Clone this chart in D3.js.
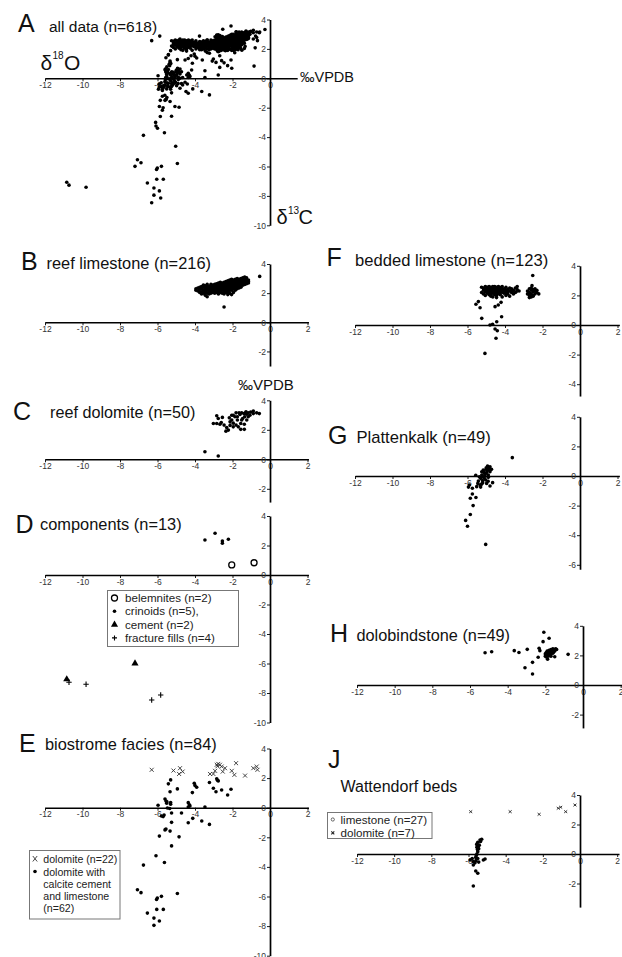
<!DOCTYPE html>
<html><head><meta charset="utf-8">
<script src="https://cdn.jsdelivr.net/npm/d3@7/dist/d3.min.js"></script>
<style>
body{margin:0;background:#fff}
svg{display:block}
</style></head><body>
<svg id="fig" width="622" height="957"></svg>
<script>
// ---- data: [δ18O, δ13C] in ‰ VPDB ----
const xTickVals = [-12, -10, -8, -6, -4, -2, 0, 2];

const reefLimestone = [
[-3.95,2.2],[-3.95,2.3],[-3.85,2.15],[-3.85,2.35],[-3.75,2.25],[-3.75,2.05],[-3.75,2.4],
[-3.65,2.3],[-3.65,2.1],[-3.65,2.45],[-3.65,1.95],[-3.55,2.2],[-3.55,2.4],[-3.55,2.0],[-3.55,2.55],
[-3.45,2.3],[-3.45,1.85],[-3.45,2.15],[-3.45,2.5],[-3.45,2.05],
[-3.35,2.4],[-3.35,1.75],[-3.35,2.2],[-3.35,2.6],[-3.35,2.0],[-3.35,2.3],
[-3.25,2.25],[-3.25,2.45],[-3.25,1.95],[-3.25,2.1],[-3.25,2.35],
[-3.15,2.3],[-3.15,2.5],[-3.15,2.15],[-3.15,2.0],[-3.15,2.4],[-3.15,2.6],
[-3.05,2.2],[-3.05,2.45],[-3.05,2.35],[-3.05,2.05],[-3.05,2.55],
[-2.95,2.3],[-2.95,2.6],[-2.95,2.15],[-2.95,2.4],[-2.95,2.0],[-2.95,2.5],[-2.95,2.25],
[-2.85,2.35],[-2.85,2.55],[-2.85,2.2],[-2.85,2.05],[-2.85,2.45],[-2.85,2.65],[-2.85,2.3],
[-2.75,2.4],[-2.75,2.2],[-2.75,2.6],[-2.75,2.1],[-2.75,2.5],[-2.75,2.3],[-2.75,2.7],[-2.75,1.95],
[-2.65,2.35],[-2.65,2.55],[-2.65,2.15],[-2.65,2.45],[-2.65,2.25],[-2.65,2.65],[-2.65,2.05],[-2.65,2.75],
[-2.55,2.4],[-2.55,2.2],[-2.55,2.6],[-2.55,2.3],[-2.55,2.5],[-2.55,2.0],[-2.55,2.7],[-2.55,2.35],
[-2.45,2.45],[-2.45,2.25],[-2.45,2.65],[-2.45,2.1],[-2.45,2.55],[-2.45,2.35],[-2.45,2.75],[-2.45,1.95],[-2.45,2.5],
[-2.35,2.5],[-2.35,2.3],[-2.35,2.7],[-2.35,2.15],[-2.35,2.6],[-2.35,2.4],[-2.35,2.8],[-2.35,2.05],
[-2.25,2.45],[-2.25,2.25],[-2.25,2.65],[-2.25,2.35],[-2.25,2.55],[-2.25,2.75],[-2.25,2.1],[-2.25,2.85],[-2.25,1.9],
[-2.15,2.5],[-2.15,2.3],[-2.15,2.7],[-2.15,2.4],[-2.15,2.6],[-2.15,2.2],[-2.15,2.8],[-2.15,2.0],[-2.15,2.9],
[-2.05,2.55],[-2.05,2.35],[-2.05,2.75],[-2.05,2.45],[-2.05,2.65],[-2.05,2.2],[-2.05,2.85],[-2.05,1.9],[-2.05,2.95],
[-1.95,2.6],[-1.95,2.4],[-1.95,2.8],[-1.95,2.5],[-1.95,2.7],[-1.95,2.3],[-1.95,2.9],[-1.95,2.05],
[-1.85,2.55],[-1.85,2.75],[-1.85,2.45],[-1.85,2.65],[-1.85,2.35],[-1.85,2.85],[-1.85,2.95],[-1.85,2.2],
[-1.75,2.6],[-1.75,2.8],[-1.75,2.5],[-1.75,2.7],[-1.75,2.4],[-1.75,2.9],[-1.75,3.0],[-1.75,2.3],
[-1.65,2.65],[-1.65,2.85],[-1.65,2.55],[-1.65,2.75],[-1.65,2.45],[-1.65,2.95],[-1.65,2.35],
[-1.55,2.7],[-1.55,2.9],[-1.55,2.6],[-1.55,2.8],[-1.55,2.5],[-1.55,3.0],[-1.55,2.4],
[-1.45,2.75],[-1.45,2.95],[-1.45,2.65],[-1.45,2.85],[-1.45,3.05],[-1.45,2.55],
[-1.35,2.8],[-1.35,3.0],[-1.35,2.7],[-1.35,2.9],[-1.35,3.1],[-1.35,2.6],
[-1.25,2.85],[-1.25,2.75],[-1.25,2.95],[-1.25,3.05],[-1.25,2.65],
[-1.15,2.8],[-1.15,2.9],[-1.15,2.7],
[-0.55,3.15],[-2.45,1.05],
[-3.1,2.35],[-3.1,2.2],[-2.9,2.45],[-2.9,2.2],[-2.8,2.5],[-2.8,2.3],[-2.8,2.1],[-2.7,2.55],[-2.7,2.35],
[-2.6,2.45],[-2.6,2.25],[-2.6,2.6],[-2.5,2.5],[-2.5,2.3],[-2.4,2.6],[-2.4,2.4],[-2.4,2.2],[-2.3,2.55],
[-2.3,2.35],[-2.2,2.6],[-2.2,2.4],[-2.2,2.75],[-2.1,2.65],[-2.1,2.45],[-2.0,2.7],[-2.0,2.5],[-2.0,2.3],
[-1.9,2.65],[-1.9,2.45],[-1.8,2.7],[-1.8,2.55],[-1.7,2.75]
];

const reefDolomite = [
[-2.84,2.95],[-2.54,2.84],[-2.76,2.77],[-3.02,2.43],[-2.84,2.43],[-2.67,2.38],[-2.45,2.32],[-2.31,2.16],[-2.35,1.91],[-2.22,1.98],
[-2.13,2.54],[-2.04,2.66],[-2.17,2.81],[-1.96,2.99],[-1.81,3.15],[-1.74,2.88],[-1.6,3.04],[-1.51,3.15],[-1.39,3.1],[-1.28,3.22],
[-1.16,3.15],[-1.03,3.2],[-0.89,3.1],[-0.71,3.15],[-0.57,3.1],
[-1.46,2.77],[-1.35,2.88],[-1.24,2.66],[-1.56,2.43],[-1.37,2.38],[-1.81,2.32],[-1.69,2.2],[-1.56,2.03],[-1.37,2.03],[-1.96,2.2],
[-1.87,2.88],[-1.16,2.88],[-1.07,2.99],[-1.65,3.15],[-2.04,2.99],[-1.74,2.66],[-1.24,3.05],[-1.51,2.66],[-0.89,3.27],[-1.96,2.45],
[-2.13,2.3],[-3.47,0.51],[-2.76,0.22],[-2.6,2.5],[-1.3,3.15]
];

// components
const belemnites = [[-2.04,0.68],[-0.85,0.83]];
const crinoids = [[-3.47,2.37],[-2.93,2.83],[-2.54,2.3],[-2.54,2.15],[-2.22,2.42]];
const cement = [[-10.84,-7.07],[-7.2,-5.99]];
const fractureFills = [[-10.72,-7.27],[-9.81,-7.41],[-5.83,-8.14],[-6.31,-8.47]];

// biostrome facies
const biostromeDolomite = [
[-6.31,2.56],[-5.15,2.51],[-4.8,2.67],[-4.66,2.44],[-4.85,2.28],[-3.2,2.28],[-3.02,2.28],[-2.93,2.49],
[-2.84,2.9],[-2.76,2.96],[-2.67,2.9],[-2.58,2.78],[-2.4,2.67],[-2.52,2.44],[-2.04,2.49],[-1.81,3.01],
[-1.9,2.22],[-1.33,2.17],[-0.89,2.67],[-0.71,2.78],[-0.67,2.56],[-2.8,2.8]
];
const biostromeOther = [
[-5.3,1.88],[-5.42,1.61],[-5.33,1.08],[-4.94,1.27],[-5.6,0.59],[-5.55,0.45],[-5.51,0.3],[-5.3,0.23],[-5.97,0.17],[-5.47,-0.02],
[-5.79,-0.56],[-5.7,-0.6],[-5.25,-0.36],[-4.72,-0.36],[-5.25,-0.99],[-5.9,-1.92],[-5.55,-1.44],[-5.33,-1.58],[-4.85,-1.97],[-5.25,-2.58],
[-6.08,-3.25],[-5.63,-3.7],[-6.75,-3.88],[-7.07,-5.54],[-6.88,-5.74],[-5.79,-5.99],[-6.01,-6.1],[-4.94,-5.8],[-6.54,-7.12],[-6.04,-6.87],
[-5.69,-6.87],[-6.19,-7.46],[-5.9,-7.66],[-6.19,-7.95],[-4.04,1.65],[-3.91,1.38],[-4.14,1.02],[-4.36,0.34],[-4.27,0.12],[-4.36,0.05],
[-3.47,0.05],[-4.12,-0.72],[-4.36,-1.02],[-3.64,-0.9],[-3.23,-1.13],[-3.23,1.7],[-3.02,1.31],[-2.88,1.08],[-2.84,1.95],[-2.76,1.81],
[-2.58,1.2],[-2.08,1.25],[-2.26,0.86],[-5.65,-0.5],[-5.5,0.4],[-5.35,-0.05],[-4.3,0.2],[-4.0,1.5],[-2.8,1.85],[-5.6,-1.5],
[-6.05,-6.2],[-5.3,0.35]
];

const beddedLimestone = [
[-5.25,2.55],[-5.25,2.2],[-5.15,2.35],[-5.15,2.5],[-5.15,2.1],[-5.05,2.6],[-5.05,2.25],[-5.05,2.4],[-5.05,2.0],
[-4.95,2.45],[-4.95,2.3],[-4.95,2.55],[-4.95,2.15],[-4.85,2.5],[-4.85,2.2],[-4.85,2.35],[-4.85,2.6],[-4.85,2.05],
[-4.75,2.4],[-4.75,2.55],[-4.75,2.25],[-4.75,1.95],[-4.75,2.1],[-4.65,2.6],[-4.65,2.3],[-4.65,2.45],[-4.65,2.15],[-4.65,1.9],
[-4.55,2.5],[-4.55,2.35],[-4.55,2.2],[-4.55,2.6],[-4.55,2.05],[-4.45,2.4],[-4.45,2.55],[-4.45,2.25],[-4.45,2.0],[-4.45,1.85],
[-4.35,2.6],[-4.35,2.3],[-4.35,2.45],[-4.35,2.15],[-4.25,2.5],[-4.25,2.2],[-4.25,2.35],[-4.25,2.05],
[-4.15,2.4],[-4.15,2.6],[-4.15,2.25],[-4.15,1.9],[-4.05,2.45],[-4.05,2.15],[-4.05,2.3],
[-3.95,2.55],[-3.95,2.2],[-3.95,2.35],[-3.95,2.0],[-3.85,2.4],[-3.85,2.1],[-3.85,2.25],
[-3.75,2.3],[-3.75,2.5],[-3.75,1.95],[-3.65,2.2],[-3.65,2.45],[-3.55,2.35],[-3.55,2.1],
[-3.45,2.5],[-3.45,2.2],[-3.35,2.4],[-3.35,2.6],[-3.25,2.3],
[-2.8,2.1],[-2.8,2.3],[-2.7,1.85],[-2.7,2.45],[-2.7,2.2],[-2.7,2.0],[-2.6,2.35],[-2.6,2.1],[-2.6,1.9],[-2.6,2.5],
[-2.5,2.25],[-2.5,2.0],[-2.5,2.4],[-2.5,1.95],[-2.4,2.3],[-2.4,2.1],[-2.4,2.45],[-2.3,2.2],[-2.3,2.35],[-2.2,2.1],
[-5.0,2.3],[-4.9,2.4],[-4.8,2.15],[-4.7,2.5],[-4.6,2.25],[-4.5,2.45],[-4.4,2.1],[-4.3,2.35],[-4.2,2.55],[-4.1,2.2],
[-4.0,2.4],[-3.9,2.15],[-3.6,2.3],[-3.4,2.25],
[-2.52,3.34],[-2.56,2.66],[-5.55,1.4],[-5.33,1.17],[-5.42,1.58],[-4.53,1.24],[-4.36,1.35],[-4.21,1.53],[-5.24,0.45],
[-4.18,0.56],[-4.44,0.22],[-4.8,0.0],[-4.66,0.05],[-4.53,-0.27],[-4.41,-0.39],[-4.48,-0.9],[-5.07,-1.92]
];

const plattenkalk = [
[-3.61,1.24],[-4.8,0.63],[-4.89,0.52],[-5.01,0.45],[-5.16,0.41],[-5.24,0.29],[-4.98,0.23],[-4.8,0.29],[-5.07,0.07],[-5.16,-0.05],
[-4.89,-0.09],[-5.3,-0.16],[-5.03,-0.27],[-5.42,-0.34],[-5.19,-0.45],[-5.33,-0.61],[-4.98,-0.5],[-4.66,-0.45],[-4.8,-0.68],[-5.51,-0.72],
[-5.74,-0.83],[-5.56,0.05],[-5.9,-0.61],[-5.95,-0.75],[-5.74,-1.22],[-5.3,-0.75],[-4.72,0.45],[-4.93,0.68],[-4.84,0.41],[-5.12,0.2],
[-5.24,0.07],[-5.37,-0.05],[-4.89,0.07],
[-5.03,-4.62],[-6.1,-3.0],[-6.0,-3.4],[-5.85,-2.6],[-5.7,-2.0],[-5.85,-1.5],[-5.55,-1.45],
[-4.95,0.35],[-5.05,0.15],[-5.1,-0.15],[-5.2,-0.3],[-4.9,-0.35],[-5.0,0.55],[-5.15,0.3],[-5.25,-0.55],[-5.45,-0.5]
];

const dolobindstone = [
[-5.2,2.18],[-4.85,2.25],[-3.65,2.32],[-3.4,2.2],[-2.96,2.41],[-3.08,1.17],[-2.68,1.53],[-2.68,0.74],[-2.38,1.87],
[-2.33,2.48],[-2.29,2.32],[-2.08,3.56],[-2.12,2.93],[-1.8,3.16],[-1.88,1.74],[-1.5,1.91],[-0.79,2.07],
[-2.0,1.95],[-2.0,2.1],[-1.95,2.05],[-1.95,1.9],[-1.95,2.2],[-1.9,2.0],[-1.9,2.15],[-1.9,2.3],
[-1.85,2.1],[-1.85,1.95],[-1.85,2.25],[-1.8,2.05],[-1.8,2.2],[-1.8,2.35],[-1.75,2.15],[-1.75,2.3],[-1.75,2.0],
[-1.7,2.25],[-1.7,2.4],[-1.7,2.1],[-1.65,2.2],[-1.65,2.35],[-1.6,2.3],[-1.6,2.45],[-1.6,2.15],
[-1.55,2.35],[-1.55,2.25],[-1.5,2.4],[-1.5,2.3],[-1.45,2.45],[-1.4,2.4],[-1.7,1.95]
];

const wattendorfLimestone = [
[-5.38,0.95],[-5.29,1.0],[-5.5,0.79],[-5.47,0.5],[-5.56,0.65],[-5.5,0.16],[-5.55,0.0],[-5.61,-0.23],[-5.91,-0.41],
[-5.74,-0.52],[-5.65,-0.6],[-5.74,-0.75],[-5.2,-0.41],[-5.11,-0.34],[-5.61,-1.15],[-5.5,-1.31],[-5.74,-2.17],
[-5.45,0.35],[-5.52,0.3],[-5.58,-0.1],[-5.5,-0.3],[-5.45,-0.55],[-5.8,-0.3],[-5.6,-0.45],[-5.42,0.6],[-5.35,0.85],[-5.55,0.45]
];
const wattendorfDolomite = [[-5.88,2.87],[-3.76,2.87],[-2.2,2.69],[-1.17,3.1],[-1.04,3.17],[-0.77,2.87],[-0.27,3.32]];

const allData = [].concat(reefLimestone, reefDolomite, belemnites, crinoids, cement, fractureFills,
  biostromeDolomite, biostromeOther, beddedLimestone, plattenkalk, dolobindstone,
  wattendorfLimestone, wattendorfDolomite);

// ---- panel geometry (pixel anchors for x=-12, x=0, y=0, y=4) ----
const FONT = '"Liberation Sans", Arial, Helvetica, sans-serif';
const layout = {
  A:{x0:45, xz:270, xMax:1.45, y0:78.3, y4:19.5, yMin:-10, xt:[-12,-10,-8,-6,-4,-2,0], yt:[4,2,0,-2,-4,-6,-8,-10]},
  B:{x0:45, xz:270, xMax:2.05, y0:322.3, y4:264, yMin:-3, yt:[4,2,0,-2]},
  C:{x0:45, xz:270, xMax:2.05, y0:459.3, y4:400.3, yMin:-2.9, yt:[4,2,0,-2]},
  D:{x0:45, xz:270, xMax:2.05, y0:575, y4:516, yMin:-10, yt:[4,2,0,-2,-4,-6,-8,-10]},
  E:{x0:45, xz:270, xMax:2.05, y0:807.7, y4:748.5, yMin:-10, yt:[4,2,0,-2,-4,-6,-8,-10]},
  F:{x0:355, xz:580, xMax:2.1, y0:325, y4:265.8, yMin:-4.8, yt:[4,2,0,-2,-4]},
  G:{x0:355, xz:580, xMax:2.1, y0:476, y4:416.8, yMin:-6.3, yt:[4,2,0,-2,-4,-6]},
  H:{x0:357, xz:583, xMax:2.1, y0:685, y4:625.8, yMin:-2.9, yt:[4,2,0,-2]},
  J:{x0:357, xz:580, xMax:2.1, y0:854, y4:795, yMin:-3.6, yt:[4,2,0,-2]}
};

const svg = d3.select("#fig").attr("font-family", FONT);

function drawMarks(g, data, mark, x, y) {
  const grp = g.append("g");
  if (mark === "dot") {
    grp.selectAll("circle").data(data).join("circle")
      .attr("cx", d => x(d[0])).attr("cy", d => y(d[1])).attr("r", 1.8).attr("fill", "#000");
    return;
  }
  if (mark === "ring") {
    grp.selectAll("circle").data(data).join("circle")
      .attr("cx", d => x(d[0])).attr("cy", d => y(d[1])).attr("r", 3)
      .attr("fill", "#fff").attr("stroke", "#000").attr("stroke-width", 1.3);
    return;
  }
  const shapes = {
    tri:  {d: d3.symbol(d3.symbolTriangle, 22)(), fill: "#000", stroke: "none", sw: 0},
    plus: {d: "M-2.7,0H2.7M0,-2.7V2.7", fill: "none", stroke: "#000", sw: 1.1},
    cross:{d: "M-2,-2L2,2M-2,2L2,-2", fill: "none", stroke: "#333", sw: 0.9},
    small:{d: "M-1.5,-1.3L1.5,1.3M-1.5,1.3L1.5,-1.3", fill: "none", stroke: "#333", sw: 1}
  }[mark];
  grp.selectAll("path").data(data).join("path")
    .attr("transform", d => `translate(${x(d[0])},${y(d[1])})`)
    .attr("d", shapes.d).attr("fill", shapes.fill)
    .attr("stroke", shapes.stroke).attr("stroke-width", shapes.sw);
}

function drawPanel(key, layers) {
  const L = layout[key];
  const ux = (L.xz - L.x0) / 12, uy = (L.y0 - L.y4) / 4;
  const x = d3.scaleLinear().domain([-12, L.xMax]).range([L.x0, L.xz + L.xMax * ux]);
  const y = d3.scaleLinear().domain([L.yMin, 4]).range([L.y0 - L.yMin * uy, L.y4]);
  const g = svg.append("g").attr("class", "panel-" + key);
  const xa = g.append("g").attr("transform", `translate(0,${y(0)})`)
    .call(d3.axisBottom(x).tickValues((L.xt || xTickVals).filter(v => v <= L.xMax))
      .tickSize(3).tickSizeOuter(0).tickPadding(0.5).tickFormat(d => String(d)));
  const ya = g.append("g").attr("transform", `translate(${x(0)},0)`)
    .call(d3.axisLeft(y).tickValues(L.yt).tickSize(3).tickSizeOuter(0).tickPadding(1)
      .tickFormat(d => String(d)));
  xa.select(".domain").attr("stroke", "#000").attr("stroke-width", 1.4);
  ya.select(".domain").attr("stroke", "#000").attr("stroke-width", 1.7);
  [xa, ya].forEach(a => {
    a.selectAll(".tick line").attr("stroke", "#000").attr("stroke-width", 0.9);
    a.selectAll(".tick text").attr("fill", "#333").attr("font-size", 8.5).attr("font-family", FONT);
  });
  layers.forEach(l => drawMarks(g, l.data, l.mark, x, y));
}

drawPanel("A", [{data: allData, mark: "dot"}]);
drawPanel("B", [{data: reefLimestone, mark: "dot"}]);
drawPanel("C", [{data: reefDolomite, mark: "dot"}]);
drawPanel("D", [{data: crinoids, mark: "dot"}, {data: belemnites, mark: "ring"},
                {data: cement, mark: "tri"}, {data: fractureFills, mark: "plus"}]);
drawPanel("E", [{data: biostromeOther, mark: "dot"}, {data: biostromeDolomite, mark: "cross"}]);
drawPanel("F", [{data: beddedLimestone, mark: "dot"}]);
drawPanel("G", [{data: plattenkalk, mark: "dot"}]);
drawPanel("H", [{data: dolobindstone, mark: "dot"}]);
drawPanel("J", [{data: wattendorfLimestone, mark: "dot"}, {data: wattendorfDolomite, mark: "small"}]);

// ---- text ----
function txt(x, y, s, size, extra) {
  const t = svg.append("text").attr("x", x).attr("y", y).attr("font-size", size)
    .attr("fill", "#111").text(s);
  if (extra) Object.entries(extra).forEach(([k, v]) => t.attr(k, v));
  return t;
}

const panelLetters = [["A",18,31.5],["B",21,269.5],["C",13,420],["D",15.5,532.5],["E",19,751.5],
                      ["F",326.5,265.5],["G",328,444],["H",330,641.5],["J",328,767.5]];
panelLetters.forEach(([s, x, y]) => txt(x, y, s, 25));

const panelTitles = [["all data (n=618)",49,31.5,15.5],["reef limestone (n=216)",46.5,269,16.4],
  ["reef dolomite (n=50)",50,418,16.2],["components (n=13)",40,530,16.4],["biostrome facies (n=84)",45,750,16.4],
  ["bedded limestone (n=123)",355,265.5,16.6],["Plattenkalk (n=49)",356.5,442.5,16.6],
  ["dolobindstone (n=49)",356.5,640.5,16.3],["Wattendorf beds",340.5,791.5,16]];
panelTitles.forEach(([s, x, y, f]) => txt(x, y, s, f));

// axis names and unit
txt(40.5, 69.5, "δ", 21);
txt(52.5, 58.5, "18", 10);
txt(64, 69.5, "O", 21);
txt(276.5, 224, "δ", 20);
txt(288, 213.5, "13", 10);
txt(298.5, 224, "C", 20);
txt(300, 82, "‰VPDB", 14.5);
txt(238, 390, "‰VPDB", 15);

// ---- legends ----
function legendBox(x, y, w, h) {
  svg.append("rect").attr("x", x).attr("y", y).attr("width", w).attr("height", h)
    .attr("fill", "#fff").attr("stroke", "#777").attr("stroke-width", 1);
}

// components legend
legendBox(107.5, 590.5, 131, 56);
const legD = [["ring","belemnites (n=2)"],["dot","crinoids (n=5),"],["tri","cement (n=2)"],["plus","fracture fills (n=4)"]];
legD.forEach(([m, s], i) => {
  const cy = 598 + i * 13.3;
  const g = svg.append("g").attr("transform", `translate(114.5,${cy})`);
  if (m === "ring") g.append("circle").attr("r", 3).attr("fill", "#fff").attr("stroke", "#000").attr("stroke-width", 1.3);
  if (m === "dot") g.append("circle").attr("r", 1.8).attr("fill", "#000");
  if (m === "tri") g.append("path").attr("d", d3.symbol(d3.symbolTriangle, 22)()).attr("fill", "#000");
  if (m === "plus") g.append("path").attr("d", "M-2.5,0H2.5M0,-2.5V2.5").attr("stroke", "#000").attr("stroke-width", 1.1);
  txt(125, cy + 4, s, 11.6, {fill: "#222"});
});

// biostrome legend
legendBox(29.5, 850.5, 90.5, 68.5);
svg.append("path").attr("d", "M32.8,856L37.2,861.5M32.8,861.5L37.2,856").attr("stroke", "#333").attr("stroke-width", 0.9);
txt(43.3, 863, "dolomite (n=22)", 10.6, {fill: "#222"});
svg.append("circle").attr("cx", 35).attr("cy", 871.5).attr("r", 1.8).attr("fill", "#000");
["dolomite with", "calcite cement", "and limestone", "(n=62)"].forEach((s, i) =>
  txt(43.3, 875.5 + i * 12, s, 10.6, {fill: "#222"}));

// Wattendorf legend
legendBox(327.5, 812.5, 104.5, 26);
svg.append("circle").attr("cx", 332.8).attr("cy", 819.5).attr("r", 1.6).attr("fill", "none").attr("stroke", "#444").attr("stroke-width", 0.8);
txt(340.5, 823.5, "limestone (n=27)", 11.6, {fill: "#222"});
svg.append("path").attr("d", "M331.3,831.3L334.3,834.3M331.3,834.3L334.3,831.3").attr("stroke", "#222").attr("stroke-width", 1.1);
txt(340.5, 836.5, "dolomite (n=7)", 11.6, {fill: "#222"});
</script>
</body></html>
